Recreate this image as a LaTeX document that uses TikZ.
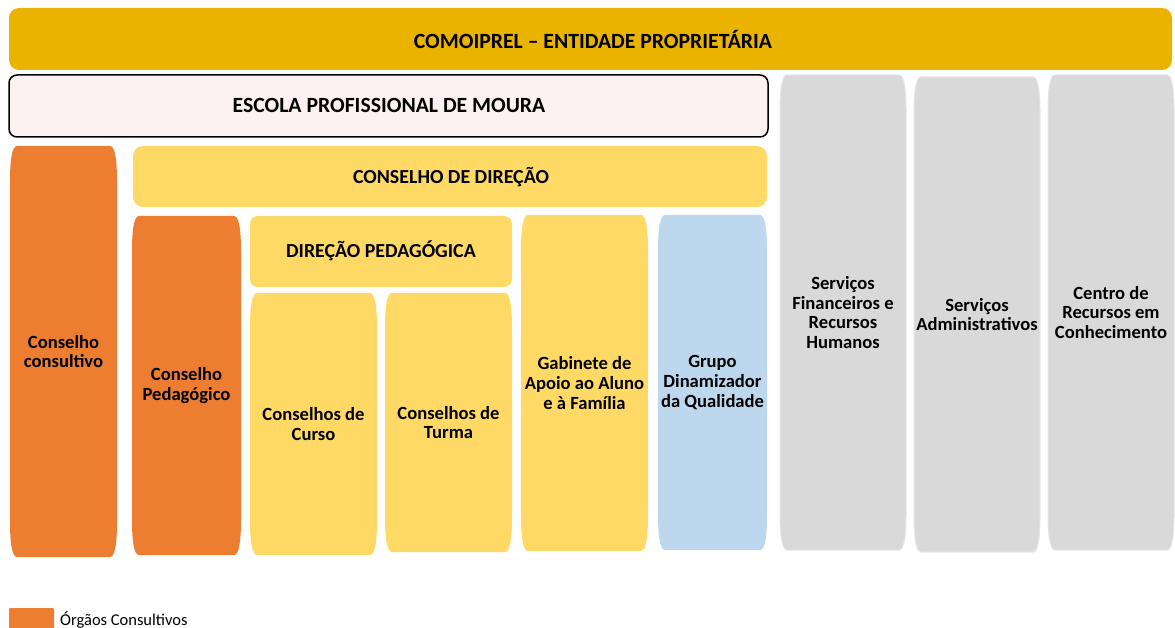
\documentclass[tikz,border=0pt]{standalone}
\usepackage{fontspec}
\setmainfont{Carlito}
\definecolor{gold}{HTML}{E9B300}
\definecolor{orng}{HTML}{ED7D31}
\definecolor{yel}{HTML}{FFD966}
\definecolor{blu}{HTML}{BDD7EE}
\definecolor{gry}{HTML}{D9D9D9}
\definecolor{gryline}{HTML}{E6E6E6}
\definecolor{pnk}{HTML}{FEF1F1}
\newcommand\tallbox[7]{%
  \path[#6] (#2,#3+35) .. controls (#2,#3+14) and (#2+2,#3) .. (#2+7,#3)
    -- (#4-7,#3) .. controls (#4-2,#3) and (#4,#3+14) .. (#4,#3+35)
    -- (#4,#5-35) .. controls (#4,#5-14) and (#4-2,#5) .. (#4-7,#5)
    -- (#2+7,#5) .. controls (#2+2,#5) and (#2,#5-14) .. (#2,#5-35) -- cycle;
  \node[txt] (#1) at ({(#2+#4)/2},{(#3+#5)/2}) {#7};
}
\begin{document}
\begin{tikzpicture}[x=1pt,y=-1pt,
  txt/.style={font=\fontsize{18.6}{19.7}\selectfont\bfseries, align=center, text=black, inner sep=0pt},
  hdr/.style={font=\fontsize{19.9}{22}\selectfont\bfseries, text=black, inner sep=0pt},
  ttl/.style={font=\fontsize{21.7}{24}\selectfont\bfseries, text=black, inner sep=0pt},
  bar/.style={rounded corners=10pt}]
\useasboundingbox (0,0) rectangle (1175,628);
% top bar
\fill[gold, bar] (9,8) rectangle (1172,70);
\node[ttl] (comoiprel) at (593,39) {COMOIPREL – ENTIDADE PROPRIETÁRIA};
% escola
\draw[fill=pnk, draw=black, line width=1.5pt, rounded corners=8pt] (9,75) rectangle (768,137);
\node[ttl] (escola) at (389,105) {ESCOLA PROFISSIONAL DE MOURA};
% conselho de direcao
\fill[yel, rounded corners=10pt] (133,146) rectangle (767,207);
\node[hdr] (cdir) at (451,177) {CONSELHO DE DIREÇÃO};
% direcao pedagogica
\fill[yel, rounded corners=8pt] (250,216) rectangle (512,287);
\node[hdr] (dped) at (381,251) {DIREÇÃO PEDAGÓGICA};
% tall boxes
\tallbox{ccons}{10}{146}{117}{557}{fill=orng}{Conselho\\consultivo}
\tallbox{cped}{132}{216}{241}{555}{fill=orng}{Conselho\\Pedagógico}
\tallbox{ccurso}{250}{293}{377}{555}{fill=yel}{Conselhos de\\Curso}
\tallbox{cturma}{385}{293}{512}{552}{fill=yel}{Conselhos de\\Turma}
\tallbox{gab}{521}{215}{648}{551}{fill=yel}{Gabinete de\\Apoio ao Aluno\\e à Família}
\tallbox{grupo}{658}{215}{767}{550}{fill=blu}{Grupo\\Dinamizador\\da Qualidade}
\tallbox{sfin}{780}{75}{906}{550}{fill=gry, draw=gryline, line width=1pt}{Serviços\\Financeiros e\\Recursos\\Humanos}
\tallbox{sadm}{914}{77}{1040}{552}{fill=gry, draw=gryline, line width=1pt}{Serviços\\Administrativos}
\tallbox{crec}{1048}{75}{1174}{550}{fill=gry, draw=gryline, line width=1pt}{Centro de\\Recursos em\\Conhecimento}
% legend
\fill[orng, rounded corners=1pt] (9,608) rectangle (54,632);
\node[anchor=west, inner sep=0pt, font=\fontsize{16.5}{18}\selectfont] (leg) at (60,620) {Órgãos Consultivos};
\end{tikzpicture}
\end{document}
